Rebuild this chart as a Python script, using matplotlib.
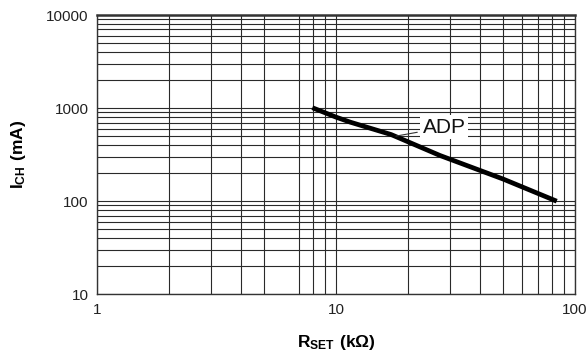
import numpy as np
import matplotlib.pyplot as plt
from matplotlib.ticker import FixedLocator, NullFormatter

plt.rcParams['font.family'] = ['Liberation Sans', 'DejaVu Sans']
plt.rcParams['mathtext.fontset'] = 'custom'
plt.rcParams['mathtext.rm'] = 'Liberation Sans'
plt.rcParams['mathtext.bf'] = 'Liberation Sans:bold'

# --- data ---
r_set = [7.96, 10.0, 11.5, 17.0, 27.2, 50.0, 83.8]
i_ch = [1010, 800, 705, 520, 310, 173, 100]

x_major = [1, 10, 100]
x_labels = ['1', '10', '100']
# the 6 line is absent in the first decade of the reference grid
x_minor = [2, 3, 4, 5, 7, 8, 9, 20, 30, 40, 50, 60, 70, 80, 90]
y_major = [10, 100, 1000, 10000]
y_labels = ['10', '100', '1000', '10000']
y_minor = [m * d for d in (10, 100, 1000) for m in range(2, 10)]

fig = plt.figure(figsize=(5.88, 3.58), dpi=100)
ax = fig.add_axes([0.165, 0.178, 0.813, 0.780])

ax.set_xscale('log')
ax.set_yscale('log')
ax.set_xlim(1, 100)
ax.set_ylim(10, 10000)

ax.xaxis.set_major_locator(FixedLocator(x_major))
ax.xaxis.set_minor_locator(FixedLocator(x_minor))
ax.yaxis.set_major_locator(FixedLocator(y_major))
ax.yaxis.set_minor_locator(FixedLocator(y_minor))
ax.set_xticklabels(x_labels)
ax.set_yticklabels(y_labels)
ax.xaxis.set_minor_formatter(NullFormatter())
ax.yaxis.set_minor_formatter(NullFormatter())

ax.grid(True, which='both', color='#2a2a2a', linewidth=0.8)
ax.tick_params(which='both', length=0, labelsize=11, colors='#222222', pad=6)

for side in ['left', 'bottom', 'right']:
    ax.spines[side].set_color('#333333')
    ax.spines[side].set_linewidth(1.0)
ax.spines['top'].set_color('#333333')
ax.spines['top'].set_linewidth(1.8)

ax.plot(r_set, i_ch, color='black', linewidth=3.4, solid_capstyle='butt', zorder=3)

ax.annotate('ADP', xy=(17.8, 500), xytext=(23.0, 620),
            fontsize=15, color='#111111', va='center', ha='left',
            bbox=dict(boxstyle='square,pad=0.12', fc='white', ec='none'),
            arrowprops=dict(arrowstyle='-', color='#333333', lw=0.8,
                            shrinkA=2, shrinkB=0),
            zorder=4)

ax.set_xlabel(r'$\mathbf{R_{SET}\ (k\Omega)}$', fontsize=12.5, labelpad=12)
ax.set_ylabel(r'$\mathbf{I_{CH}\ (mA)}$', fontsize=12.5, labelpad=13)

fig.savefig('out.png', dpi=100)
